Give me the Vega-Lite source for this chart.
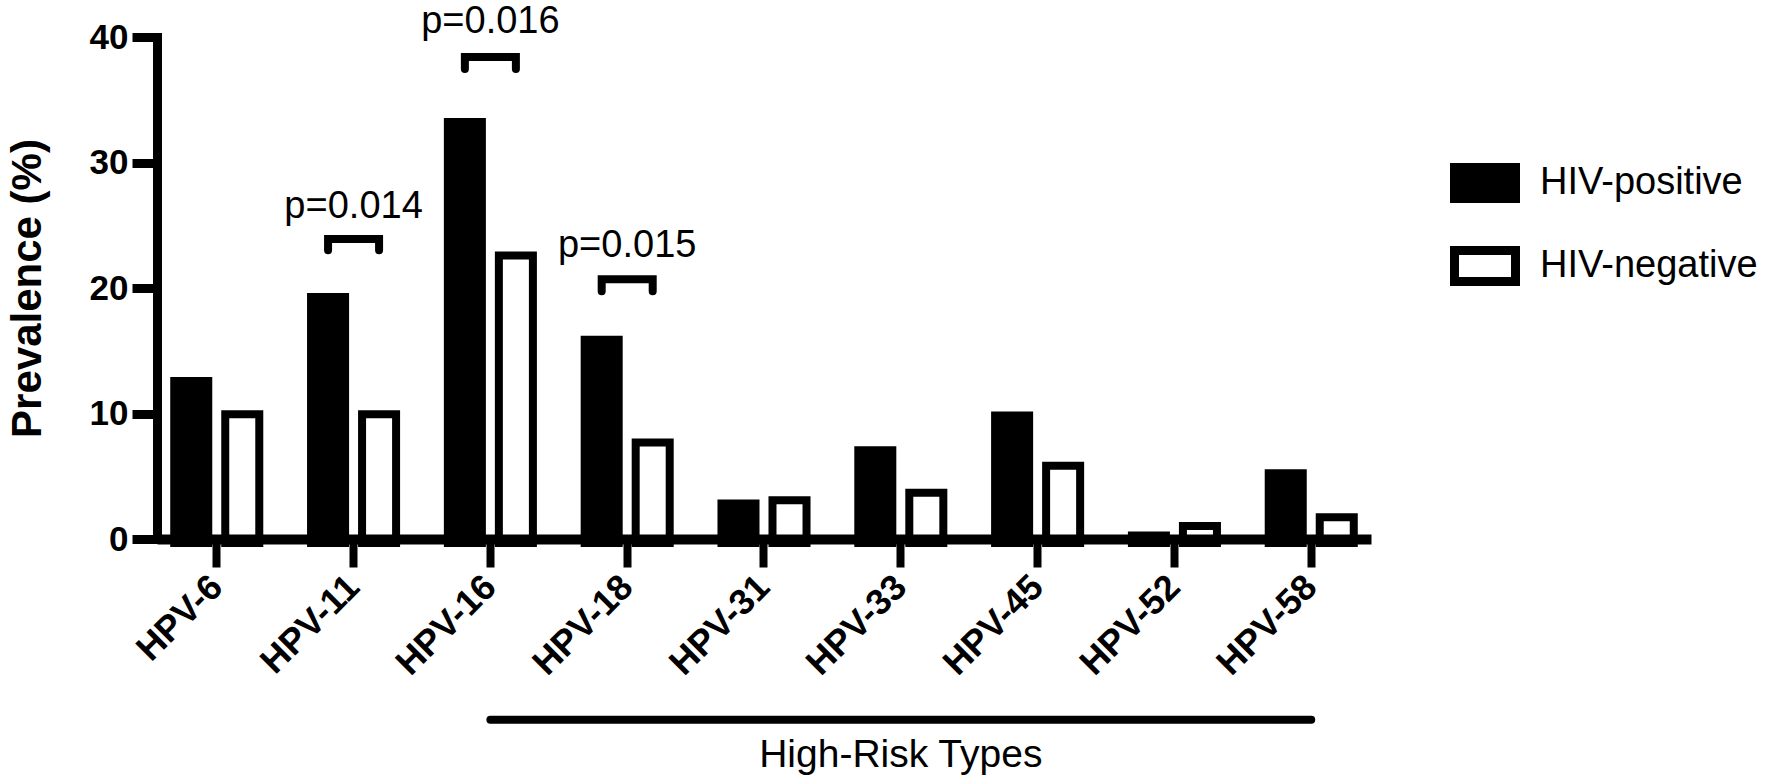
{
  "$schema": "https://vega.github.io/schema/vega-lite/v6.json",
  "width": 1214,
  "height": 502,
  "autosize": {"type": "none"},
  "padding": {"left": 157, "top": 37, "right": 402, "bottom": 243},
  "background": "white",
  "config": {
    "view": {"stroke": null},
    "font": "Liberation Sans",
    "text": {"font": "Liberation Sans"}
  },
  "datasets": {
    "bars": [
      {"cat": "HPV-6", "grp": "HIV-positive", "v": 12.9},
      {"cat": "HPV-6", "grp": "HIV-negative", "v": 10.25},
      {"cat": "HPV-11", "grp": "HIV-positive", "v": 19.6},
      {"cat": "HPV-11", "grp": "HIV-negative", "v": 10.25},
      {"cat": "HPV-16", "grp": "HIV-positive", "v": 33.55},
      {"cat": "HPV-16", "grp": "HIV-negative", "v": 22.9},
      {"cat": "HPV-18", "grp": "HIV-positive", "v": 16.2},
      {"cat": "HPV-18", "grp": "HIV-negative", "v": 8.0},
      {"cat": "HPV-31", "grp": "HIV-positive", "v": 3.15},
      {"cat": "HPV-31", "grp": "HIV-negative", "v": 3.4},
      {"cat": "HPV-33", "grp": "HIV-positive", "v": 7.4},
      {"cat": "HPV-33", "grp": "HIV-negative", "v": 4.0},
      {"cat": "HPV-45", "grp": "HIV-positive", "v": 10.15},
      {"cat": "HPV-45", "grp": "HIV-negative", "v": 6.15},
      {"cat": "HPV-52", "grp": "HIV-positive", "v": 0.6},
      {"cat": "HPV-52", "grp": "HIV-negative", "v": 1.35},
      {"cat": "HPV-58", "grp": "HIV-positive", "v": 5.55},
      {"cat": "HPV-58", "grp": "HIV-negative", "v": 2.05}
    ],
    "brackets": [
      {"id": "b11", "ord": 1, "cat": "HPV-11", "grp": "HIV-positive", "v": 23.0},
      {"id": "b11", "ord": 2, "cat": "HPV-11", "grp": "HIV-positive", "v": 23.9},
      {"id": "b11", "ord": 3, "cat": "HPV-11", "grp": "HIV-negative", "v": 23.9},
      {"id": "b11", "ord": 4, "cat": "HPV-11", "grp": "HIV-negative", "v": 23.0},
      {"id": "b16", "ord": 1, "cat": "HPV-16", "grp": "HIV-positive", "v": 37.45},
      {"id": "b16", "ord": 2, "cat": "HPV-16", "grp": "HIV-positive", "v": 38.4},
      {"id": "b16", "ord": 3, "cat": "HPV-16", "grp": "HIV-negative", "v": 38.4},
      {"id": "b16", "ord": 4, "cat": "HPV-16", "grp": "HIV-negative", "v": 37.45},
      {"id": "b18", "ord": 1, "cat": "HPV-18", "grp": "HIV-positive", "v": 19.75},
      {"id": "b18", "ord": 2, "cat": "HPV-18", "grp": "HIV-positive", "v": 20.7},
      {"id": "b18", "ord": 3, "cat": "HPV-18", "grp": "HIV-negative", "v": 20.7},
      {"id": "b18", "ord": 4, "cat": "HPV-18", "grp": "HIV-negative", "v": 19.75}
    ],
    "pvals": [
      {"cat": "HPV-11", "v": 25.6, "label": "p=0.014"},
      {"cat": "HPV-16", "v": 40.3, "label": "p=0.016"},
      {"cat": "HPV-18", "v": 22.5, "label": "p=0.015"}
    ],
    "span": [
      {"cat": "HPV-16", "cat2": "HPV-58", "v": -14.4}
    ],
    "spanlabel": [
      {"cat": "HPV-33", "v": -18.2, "label": "High-Risk Types"}
    ]
  },
  "layer": [
    {
      "data": {"name": "bars"},
      "mark": {"type": "bar", "stroke": "black", "strokeWidth": 8, "yOffset": 4},
      "encoding": {
        "x": {
          "field": "cat", "type": "nominal", "sort": null,
          "scale": {"domain": ["HPV-6", "HPV-11", "HPV-16", "HPV-18", "HPV-31", "HPV-33", "HPV-45", "HPV-52", "HPV-58"], "paddingInner": 0.3784, "paddingOuter": 0.126},
          "axis": {
            "title": null, "labelAngle": -45, "labelAlign": "right", "labelBaseline": "middle",
            "labelFontSize": 36, "labelFontWeight": "bold", "labelColor": "black",
            "labelFont": "Liberation Sans",
            "tickSize": 28, "tickWidth": 8, "tickColor": "black",
            "domainWidth": 10, "domainColor": "black", "labelPadding": 14, "zindex": 1,
            "labelOverlap": false
          }
        },
        "xOffset": {
          "field": "grp", "type": "nominal", "sort": null,
          "scale": {"domain": ["HIV-positive", "HIV-negative"], "paddingInner": 0.333, "paddingOuter": 0}
        },
        "y": {
          "field": "v", "type": "quantitative",
          "scale": {"domain": [0, 40], "nice": false},
          "axis": {
            "title": "Prevalence (%)", "titleFontSize": 42, "titleFontWeight": "bold", "titleColor": "black",
            "titleFont": "Liberation Sans", "titlePadding": 40,
            "values": [0, 10, 20, 30, 40], "grid": false,
            "labelFontSize": 35, "labelFontWeight": "bold", "labelColor": "black", "labelFont": "Liberation Sans",
            "labelPadding": 4, "tickSize": 25, "tickWidth": 9, "tickColor": "black",
            "domainWidth": 9, "domainColor": "black", "domainCap": "square", "zindex": 1
          }
        },
        "color": {
          "field": "grp", "type": "nominal", "sort": null,
          "scale": {"domain": ["HIV-positive", "HIV-negative"], "range": ["black", "white"]},
          "legend": {
            "title": null, "orient": "none", "legendX": 1293, "legendY": 111,
            "labelFontSize": 38, "labelColor": "black", "labelFont": "Liberation Sans", "labelLimit": 400,
            "symbolType": "M-1,-0.508H1V0.508H-1Z", "symbolSize": 3721,
            "symbolStrokeColor": "black", "symbolStrokeWidth": 9,
            "labelOffset": 20, "rowPadding": 14, "padding": 0
          }
        }
      }
    },
    {
      "data": {"name": "brackets"},
      "mark": {"type": "line", "color": "black", "strokeWidth": 8, "strokeCap": "round", "strokeJoin": "miter"},
      "encoding": {
        "x": {"field": "cat", "type": "nominal", "sort": null},
        "xOffset": {"field": "grp", "type": "nominal", "sort": null},
        "y": {"field": "v", "type": "quantitative"},
        "detail": {"field": "id"},
        "order": {"field": "ord"}
      }
    },
    {
      "data": {"name": "pvals"},
      "mark": {"type": "text", "fontSize": 38, "baseline": "alphabetic", "align": "center", "color": "black"},
      "encoding": {
        "x": {"field": "cat", "type": "nominal", "sort": null},
        "y": {"field": "v", "type": "quantitative"},
        "text": {"field": "label"}
      }
    },
    {
      "data": {"name": "span"},
      "mark": {"type": "rule", "color": "black", "strokeWidth": 8, "strokeCap": "round"},
      "encoding": {
        "x": {"field": "cat", "type": "nominal", "sort": null},
        "x2": {"field": "cat2"},
        "y": {"field": "v", "type": "quantitative"}
      }
    },
    {
      "data": {"name": "spanlabel"},
      "mark": {"type": "text", "fontSize": 39, "baseline": "alphabetic", "align": "center", "color": "black"},
      "encoding": {
        "x": {"field": "cat", "type": "nominal", "sort": null},
        "y": {"field": "v", "type": "quantitative"},
        "text": {"field": "label"}
      }
    }
  ]
}
